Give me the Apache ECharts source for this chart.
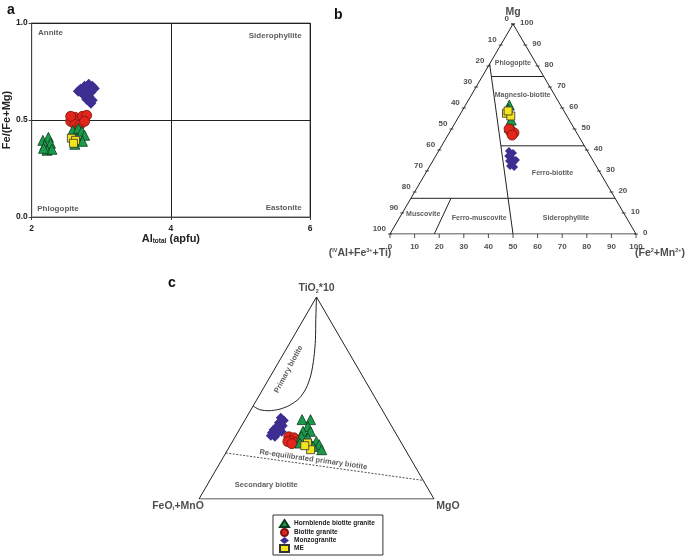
<!DOCTYPE html>
<html>
<head>
<meta charset="utf-8">
<title>biotite</title>
<script src="https://cdn.jsdelivr.net/npm/echarts@6/dist/echarts.min.js"></script>
</head>
<body style="margin:0">
<div id="main" style="width:685px;height:557px;"></div>
<script>
var names = ['Hornblende biotite granite', 'Biotite granite', 'Monzogranite', 'ME'];

// panel a: [Al total (apfu), Fe/(Fe+Mg)]
var aHbl = [[2.16,0.395],[2.24,0.411],[2.19,0.37],[2.27,0.38],[2.22,0.344],[2.29,0.349],[2.17,0.354],
            [2.59,0.447],[2.67,0.457],[2.72,0.442],[2.76,0.421],[2.65,0.406],[2.73,0.39],[2.62,0.375]];
var aBt = [[2.56,0.493],[2.62,0.514],[2.67,0.498],[2.73,0.519],[2.79,0.524],[2.62,0.478],[2.69,0.473],[2.76,0.493],[2.56,0.519]];
var aMzg = [[2.70,0.658],[2.76,0.674],[2.82,0.684],[2.87,0.674],[2.79,0.653],[2.73,0.638],[2.85,0.643],
            [2.90,0.663],[2.82,0.622],[2.87,0.602],[2.79,0.607],[2.85,0.586],[2.67,0.648],[2.76,0.625]];
var aME = [[2.57,0.406],[2.63,0.395],[2.60,0.38]];

// panel b: [IVAl+Fe3++Ti, Fe2++Mn2+, Mg]
var bHbl = [[20.8,17.8,61.4],[22.3,18.2,59.5],[24.9,22.4,52.7],[26.1,23.1,50.8],[23.6,22.1,54.3]];
var bBt = [[26.6,24.7,48.7],[25.5,26.3,48.2],[26.6,23.4,50.0],[26.8,26.1,47.1]];
var bMzg = [[31.9,28.6,39.5],[30.7,30.7,38.6],[33.4,29.5,37.1],[32.3,31.5,36.2],[31.2,33.6,35.2],
            [34.2,31.0,34.8],[33.1,33.1,33.8],[35.0,32.6,32.4],[33.6,34.5,31.9]];
var bME = [[23.9,18.6,57.5],[22.8,21.0,56.2],[22.7,18.7,58.6]];

// panel c: [FeOt+MnO, MgO, TiO2*10]
var cHbl = [[36.5,24.2,39.3],[32.9,27.8,39.3],[35.7,28.4,35.9],[39.0,27.5,33.5],[35.8,30.7,33.5],[40.9,28.1,31.0],
            [38.5,31.3,30.2],[43.2,29.1,27.7],[35.8,35.7,28.5],[35.4,37.7,26.9],[35.6,40.0,24.4],[38.4,35.6,26.0]];
var cBt = [[46.4,22.8,30.8],[44.5,25.2,30.3],[46.4,24.7,28.9],[48.0,23.6,28.4],[45.2,26.9,27.9],[46.8,25.8,27.4]];
var cMzg = [[45.1,14.7,40.2],[44.5,16.7,38.8],[47.1,15.1,37.8],[46.2,17.5,36.3],[49.0,15.2,35.8],[51.1,14.6,34.3],
            [48.4,17.3,34.3],[52.6,14.6,32.8],[50.7,17.0,32.3],[48.2,18.5,33.3],[52.3,16.9,30.8],[53.8,14.9,31.3]];
var cME = [[40.0,32.3,27.7],[40.3,35.3,24.4],[41.8,31.8,26.4]];

// field boundaries
var triFrame = [[100,0,0],[0,100,0],[0,0,100],[100,0,0]];
var bDiv = [[19,0,81],[50,50,0]];
var bPhl = [[21.3,3.7,75],[0,25,75]];
var bMgFe = [[33.9,24.1,42],[0,58,42]];
var bLow = [[83,0,17],[0,83,17]];
var bMs = [[66.7,16.3,17],[82,18,0]];
var cPrimary = [[0,0,100],[5.9,5.3,88.8],[11.0,10.1,78.9],[16.1,13.9,70.0],[21.6,16.9,61.5],[27.2,18.2,54.6],
                [32.6,17.7,49.7],[38.2,15.4,46.4],[43.3,12.2,44.5],[48.4,7.9,43.7],[52.0,3.8,44.2],[54,0,46]];
var cDash = [[77.2,0,22.8],[0,90.8,9.2]];

var ticks = [0,10,20,30,40,50,60,70,80,90,100];

var colors = ['#1c9a4c', '#e2261c', '#3d2e92', '#f4e41c'];
var symbols = ['triangle', 'circle', 'diamond', 'rect'];
var borders = ['#0b3a1c', '#7c1410', '#3d2e92', '#333'];
var font = 'Liberation Sans, Arial, sans-serif';

// ternary -> cartesian in a 0..100 box (left, right, top)
function tern(p) {
    var s = p[0] + p[1] + p[2];
    return [(p[1] + p[2] / 2) / s * 100, p[2] / s * 100];
}

var series = [];

function pts(k, g, data, size, ternary) {
    series.push({
        name: names[k], type: 'scatter', xAxisIndex: g, yAxisIndex: g,
        symbol: symbols[k], symbolSize: size,
        data: ternary ? data.map(tern) : data,
        itemStyle: {color: colors[k], borderColor: borders[k], borderWidth: k == 2 ? 0 : 0.8, opacity: 1},
        z: 5
    });
}

function line(g, data, dashed, smooth) {
    series.push({
        type: 'line', xAxisIndex: g, yAxisIndex: g, symbol: 'none', silent: true,
        smooth: smooth || false,
        data: data.map(tern),
        lineStyle: {color: '#222', width: dashed ? 0.8 : 1, type: dashed ? [2, 1.5] : 'solid'},
        z: 2
    });
}

function labels(g, items, extra) {
    series.push(Object.assign({
        type: 'scatter', xAxisIndex: g, yAxisIndex: g, silent: true,
        symbolSize: 0,
        data: items,
        label: {show: true, formatter: function (p) { return p.data.text; },
                fontFamily: font, fontWeight: 'bold', fontSize: 7.5, color: '#333'},
        z: 3
    }, extra || {}));
}

// ---- panel a
pts(1, 0, aBt, 10);
pts(2, 0, aMzg, 11);
pts(0, 0, aHbl, 10);
pts(3, 0, aME, 8);
labels(0, [
    {value: [2.09, 0.947], text: 'Annite', label: {align: 'left'}},
    {value: [5.88, 0.933], text: 'Siderophyllite', label: {align: 'right'}},
    {value: [2.08, 0.043], text: 'Phlogopite', label: {align: 'left'}},
    {value: [5.88, 0.048], text: 'Eastonite', label: {align: 'right'}}
], {label: {show: true, position: 'inside', formatter: function (p) { return p.data.text; },
            fontFamily: font, fontWeight: 'bold', fontSize: 8, color: '#333'}});

// ---- panel b
line(1, triFrame);
line(1, bDiv);
line(1, bPhl);
line(1, bMgFe);
line(1, bLow);
line(1, bMs);
pts(2, 1, bMzg, 8, true);
pts(0, 1, bHbl, 10, true);
pts(3, 1, bME, 8, true);
pts(1, 1, bBt, 10, true);

var tickStyle = {color: '#222'};
var tickLabel = {show: true, fontFamily: font, fontWeight: 'bold', fontSize: 8, color: '#222',
                 formatter: function (p) { return p.data.text; }};
// left edge (IVAl share)
labels(1, ticks.map(function (v) { return {value: tern([v, 0, 100 - v]), text: String(v)}; }),
    {symbol: 'rect', symbolSize: [4, 1], itemStyle: tickStyle,
     label: Object.assign({position: 'left', distance: 2, offset: [0, -5]}, tickLabel)});
// right edge (Mg)
labels(1, ticks.map(function (v) { return {value: tern([0, 100 - v, v]), text: String(v)}; }),
    {symbol: 'rect', symbolSize: [4, 1], itemStyle: tickStyle,
     label: Object.assign({position: 'right', distance: 5, offset: [0, -1]}, tickLabel)});
// bottom edge (Fe2+ + Mn2+)
labels(1, ticks.map(function (v) { return {value: tern([100 - v, v, 0]), text: String(v)}; }),
    {symbol: 'rect', symbolSize: [1, 4], symbolOffset: [0, 2], itemStyle: tickStyle,
     label: Object.assign({position: 'bottom', distance: 5}, tickLabel)});

var supRich = {
    s: {fontSize: 5.5, fontWeight: 'bold', fontFamily: font, verticalAlign: 'top', color: '#222'},
    d: {fontSize: 5.5, fontWeight: 'bold', fontFamily: font, verticalAlign: 'bottom', color: '#222'}
};
var cornerLabel = {show: true, fontFamily: font, fontWeight: 'bold', fontSize: 10.5, color: '#222',
                   formatter: function (p) { return p.data.text; }, rich: supRich};
labels(1, [
    {value: tern([0, 0, 100]), text: 'Mg', label: {position: 'top', distance: 6}},
    {value: tern([100, 0, 0]), text: '({s|IV}Al+Fe{s|3+}+Ti)', label: {position: [-30, 19], align: 'center', verticalAlign: 'middle'}},
    {value: tern([0, 100, 0]), text: '(Fe{s|2}+Mn{s|2+})', label: {position: [24, 19], align: 'center', verticalAlign: 'middle'}}
], {label: cornerLabel});

labels(1, [
    {value: tern([9.4, 9.3, 81.3]), text: 'Phlogopite'},
    {value: tern([13.0, 20.8, 66.2]), text: 'Magnesio-biotite'},
    {value: tern([19.5, 51.6, 28.9]), text: 'Ferro-biotite'},
    {value: tern([81.8, 8.8, 9.4]), text: 'Muscovite'},
    {value: tern([60.0, 32.5, 7.5]), text: 'Ferro-muscovite'},
    {value: tern([24.7, 67.8, 7.5]), text: 'Siderophyllite'}
], {label: {show: true, position: 'inside', formatter: function (p) { return p.data.text; },
            fontFamily: font, fontWeight: 'bold', fontSize: 7, color: '#333'}});

// ---- panel c
line(2, triFrame);
line(2, cPrimary, false, 0.25);
line(2, cDash, true);
pts(2, 2, cMzg, 10, true);
pts(1, 2, cBt, 10, true);
pts(0, 2, cHbl, 10, true);
pts(3, 2, cME, 8, true);

labels(2, [
    {value: tern([0, 0, 100]), text: 'TiO{d|2}*10', label: {position: 'top', distance: 3}},
    {value: tern([100, 0, 0]), text: 'FeO{d|t}+MnO', label: {position: [-21, 7], align: 'center', verticalAlign: 'middle'}},
    {value: tern([0, 100, 0]), text: 'MgO', label: {position: [14, 7], align: 'center', verticalAlign: 'middle'}}
], {label: cornerLabel});

labels(2, [
    {value: tern([29.8, 6.0, 64.2]), text: 'Primary biotite', label: {rotate: 62}},
    {value: tern([41.6, 38.9, 19.5]), text: 'Re-equilibrated primary biotite', label: {rotate: -8}},
    {value: tern([67.8, 25.1, 7.1]), text: 'Secondary biotite'}
], {label: {show: true, position: 'inside', formatter: function (p) { return p.data.text; },
            fontFamily: font, fontWeight: 'bold', fontSize: 7.5, color: '#333'}});

var hiddenX = function (g) { return {gridIndex: g, type: 'value', min: 0, max: 100, show: false}; };

var myChart = echarts.init(document.getElementById('main'));
myChart.setOption({
    animation: false,
    backgroundColor: '#fff',
    textStyle: {fontFamily: font},
    graphic: [
        {type: 'text', left: 7, top: 3, style: {text: 'a', font: 'bold 14px ' + font, fill: '#111'}},
        {type: 'text', left: 334, top: 8, style: {text: 'b', font: 'bold 14px ' + font, fill: '#111'}},
        {type: 'text', left: 168, top: 276, style: {text: 'c', font: 'bold 14px ' + font, fill: '#111'}}
    ],
    grid: [
        {left: 31, top: 23, width: 279, height: 194, show: true, borderColor: '#666', borderWidth: 1},
        {left: 390, top: 24, width: 246, height: 210},
        {left: 199, top: 297, width: 235, height: 202}
    ],
    xAxis: [
        {gridIndex: 0, type: 'value', min: 2, max: 6, interval: 2,
         axisLine: {lineStyle: {color: '#444'}}, axisTick: {length: 3, lineStyle: {color: '#444'}},
         splitLine: {lineStyle: {color: '#222', width: 1}},
         axisLabel: {fontFamily: font, fontWeight: 'bold', fontSize: 8.5, color: '#222', margin: 7},
         name: '{b|Al}{s|total}{b| (apfu)}', nameLocation: 'middle', nameGap: 16,
         nameTextStyle: {rich: {
             b: {fontFamily: font, fontWeight: 'bold', fontSize: 11, color: '#222'},
             s: {fontFamily: font, fontWeight: 'bold', fontSize: 6.5, color: '#222', verticalAlign: 'bottom'}}}},
        hiddenX(1), hiddenX(2)
    ],
    yAxis: [
        {gridIndex: 0, type: 'value', min: 0, max: 1, interval: 0.5,
         axisLine: {show: true, lineStyle: {color: '#444'}}, axisTick: {show: true, length: 3, lineStyle: {color: '#444'}},
         splitLine: {lineStyle: {color: '#222', width: 1}},
         axisLabel: {fontFamily: font, fontWeight: 'bold', fontSize: 8.5, color: '#222', margin: 4,
                     formatter: function (v) { return v.toFixed(1); }},
         name: 'Fe/(Fe+Mg)', nameLocation: 'middle', nameGap: 18,
         nameTextStyle: {fontFamily: font, fontWeight: 'bold', fontSize: 11, color: '#222'}},
        hiddenX(1), hiddenX(2)
    ],
    legend: {
        data: names.map(function (n, i) { return {name: n, icon: symbols[i]}; }),
        orient: 'vertical', left: 273, top: 515, height: 80,
        itemWidth: 9, itemHeight: 7, itemGap: 0,
        padding: [4, 8, 2, 6],
        borderColor: '#333', borderWidth: 1,
        textStyle: {fontFamily: font, fontWeight: 'bold', fontSize: 6.5, color: '#222', lineHeight: 7}
    },
    series: series
});
</script>
</body>
</html>
